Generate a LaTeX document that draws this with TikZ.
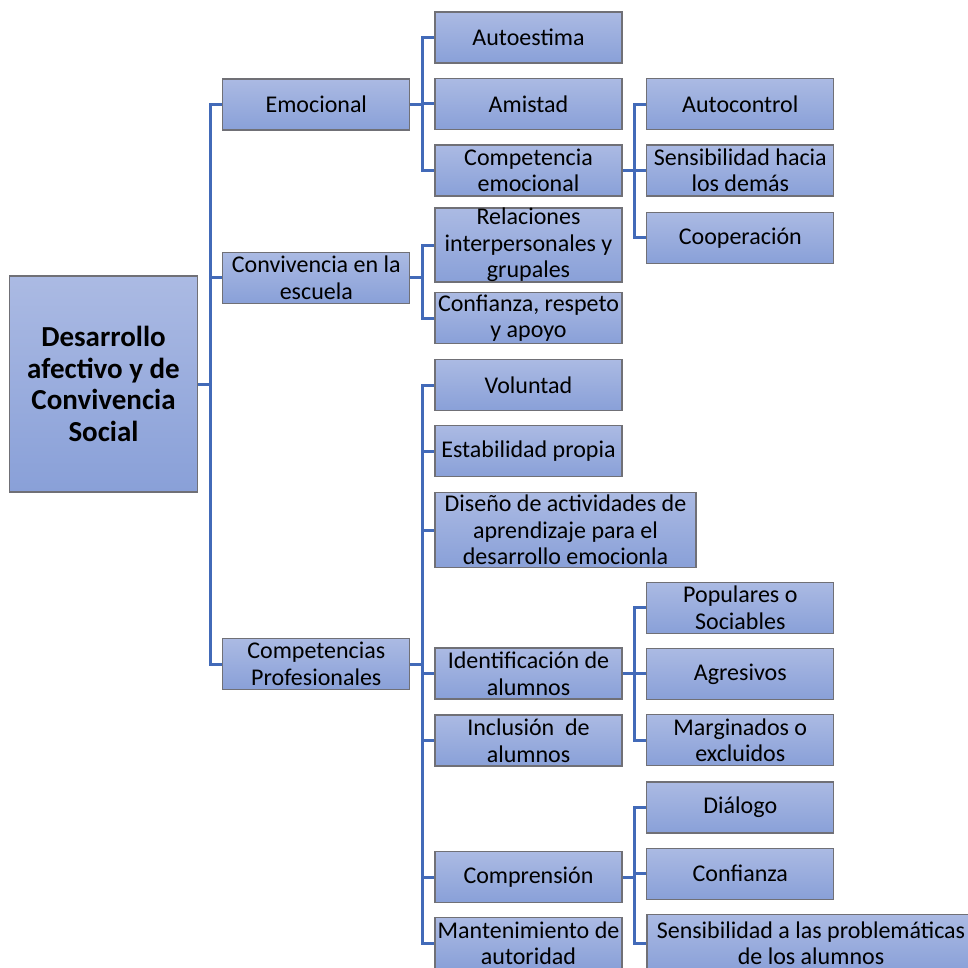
\documentclass[tikz,border=0pt]{standalone}
\usepackage{fontspec}
\setmainfont{Carlito}
\definecolor{boxtop}{RGB}{171,186,227}
\definecolor{boxbot}{RGB}{137,160,216}
\definecolor{boxline}{RGB}{112,112,118}
\definecolor{conncol}{RGB}{66,106,184}
\begin{document}
\begin{tikzpicture}[x=1pt,y=-1pt,
  bx/.style={draw=boxline, line width=1.3pt, top color=boxtop, bottom color=boxbot,
    align=center, inner sep=0pt, text=black, font=\fontsize{24}{26.5}\selectfont},
  lone/.style={bx, minimum width=187pt, minimum height=51pt},
  wire/.style={draw=conncol, line width=3pt}]
\useasboundingbox (0,0) rectangle (967,968);

% connectors are drawn first so that the boxes sit on top
% spine positions
\coordinate (s1) at (210,0);
\coordinate (s2) at (422,0);
\coordinate (s3) at (634.5,0);

% root
\node[bx, minimum width=188pt, minimum height=216pt, font=\bfseries\fontsize{29}{31.5}\selectfont] (main) at (103.5,384)
  {Desarrollo\\afectivo y de\\Convivencia\\Social};

% level 1
\node[lone] (emo)  at (316.3,104.5) {Emocional};
\node[lone] (conv) at (316.3,277.7) {Convivencia en la\\escuela};
\node[lone] (comp) at (316.3,664)   {Competencias\\Profesionales};

% level 2
\node[lone] (auto)    at (528.5,37.5)  {Autoestima};
\node[lone] (amis)    at (528.5,104)   {Amistad};
\node[lone] (compemo) at (528.5,170.5) {Competencia\\emocional};
\node[lone, minimum height=64.6pt] (rel) at (528.5,245) {Relaciones\\interpersonales y\\grupales};
\node[lone] (confr)   at (528.5,318)   {Confianza, respeto\\y apoyo};
\node[lone] (vol)     at (528.5,385)   {Voluntad};
\node[lone] (estab)   at (528.5,451.3) {Estabilidad propia};
\node[bx, minimum width=261pt, minimum height=74.6pt] (dis) at (565.5,530)
  {Diseño de actividades de\\aprendizaje para el\\desarrollo emocionla};
\node[lone] (ident)   at (528.5,673.5) {Identificación de\\alumnos};
\node[lone] (inclu)   at (528.5,740.5) {Inclusión\ \ de\\alumnos};
\node[lone] (compr)   at (528.5,877.2) {Comprensión};
\node[lone] (mant)    at (528.5,943.3) {Mantenimiento de\\autoridad};

% level 3
\node[lone] (autoc)   at (740.3,104.2) {Autocontrol};
\node[lone] (sensh)   at (740.3,170.5) {Sensibilidad hacia\\los demás};
\node[lone] (coop)    at (740.3,237.7) {Cooperación};
\node[lone] (popu)    at (740.3,607.7) {Populares o\\Sociables};
\node[lone] (agre)    at (740.3,673.8) {Agresivos};
\node[lone] (marg)    at (740.3,740)   {Marginados o\\excluidos};
\node[lone] (dial)    at (740.3,807.5) {Diálogo};
\node[lone] (confi)   at (740.3,873.7) {Confianza};
\node[bx, minimum width=328pt, minimum height=58pt] (sensp) at (811,943.3)
  {Sensibilidad a las problemáticas\\de los alumnos};

% connectors level 1
\foreach \c in {emo,conv,comp}
  \draw[wire] (main.east) -- (main.east -| s1) |- (\c.west);
% connectors level 2
\foreach \c in {auto,amis,compemo}
  \draw[wire] (emo.east) -- (emo.east -| s2) |- (\c.west);
\foreach \c in {rel,confr}
  \draw[wire] (conv.east) -- (conv.east -| s2) |- (\c.west);
\foreach \c in {vol,estab,dis,ident,inclu,compr,mant}
  \draw[wire] (comp.east) -- (comp.east -| s2) |- (\c.west);
% connectors level 3
\foreach \c in {autoc,sensh,coop}
  \draw[wire] (compemo.east) -- (compemo.east -| s3) |- (\c.west);
\foreach \c in {popu,agre,marg}
  \draw[wire] (ident.east) -- (ident.east -| s3) |- (\c.west);
\foreach \c in {dial,confi,sensp}
  \draw[wire] (compr.east) -- (compr.east -| s3) |- (\c.west);
\end{tikzpicture}
\end{document}
